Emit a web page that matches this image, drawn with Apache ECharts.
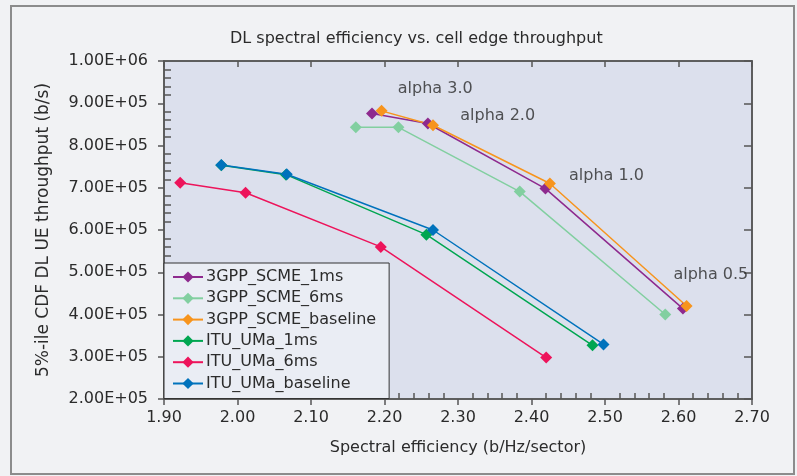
<!DOCTYPE html>
<html>
<head>
<meta charset="utf-8">
<script src="https://cdn.jsdelivr.net/npm/echarts@6/dist/echarts.min.js"></script>
<style>
  html, body { margin: 0; padding: 0; background: #f1f2f4; }
  #chart { width: 797px; height: 476px; }
</style>
</head>
<body>
<div id="chart"></div>
<script>
// series names
const seriesNames = ['3GPP_SCME_1ms', '3GPP_SCME_6ms', '3GPP_SCME_baseline', 'ITU_UMa_1ms', 'ITU_UMa_6ms', 'ITU_UMa_baseline']
const seriesColors = ['#8e2a8e', '#82cfa0', '#f7941d', '#00a651', '#ed145b', '#0072bc']

// spectral efficiency (x) / 5%-ile throughput (y), one point per alpha
const scme1msX = [2.183, 2.259, 2.419, 2.606]
const scme1msY = [876000, 852000, 698000, 414000]
const scme6msX = [2.161, 2.219, 2.384, 2.582]
const scme6msY = [843000, 843000, 691000, 400000]
const scmeBaseX = [2.196, 2.266, 2.425, 2.611]
const scmeBaseY = [882000, 848000, 710000, 420000]
const uma1msX = [1.978, 2.066, 2.257, 2.483]
const uma1msY = [753000, 731000, 589000, 327000]
const uma6msX = [1.922, 2.011, 2.195, 2.420]
const uma6msY = [712000, 688000, 560000, 298000]
const umaBaseX = [1.978, 2.067, 2.266, 2.498]
const umaBaseY = [754000, 732000, 600000, 329000]

const seriesX = [scme1msX, scme6msX, scmeBaseX, uma1msX, uma6msX, umaBaseX]
const seriesY = [scme1msY, scme6msY, scmeBaseY, uma1msY, uma6msY, umaBaseY]

// alpha annotations
const alphaText = ['alpha 3.0', 'alpha 2.0', 'alpha 1.0', 'alpha 0.5']
const alphaX = [2.269, 2.354, 2.502, 2.644]
const alphaY = [934000, 870000, 728000, 493000]

const FONT = 'DejaVu Sans'
const TXT = '#2b2b2b'
const AXIS = '#555'

function sci(v) {
    const e = Math.floor(Math.log10(v) + 1e-9)
    const m = v / Math.pow(10, e)
    return m.toFixed(2) + 'E+' + String(e).padStart(2, '0')
}

const chart = echarts.init(document.getElementById('chart'))

const lineSeries = seriesNames.map((name, k) => ({
    name: name,
    type: 'line',
    data: seriesX[k].map((x, i) => [x, seriesY[k][i]]),
    symbol: 'diamond',
    symbolSize: 12,
    showSymbol: true,
    color: seriesColors[k],
    lineStyle: { width: 1.5, color: seriesColors[k] },
    itemStyle: { color: seriesColors[k] },
    emphasis: { disabled: true },
    z: 3
}))

const annotations = {
    name: 'alpha',
    type: 'scatter',
    data: alphaText.map((t, i) => ({ name: t, value: [alphaX[i], alphaY[i]] })),
    symbolSize: 1,
    itemStyle: { color: 'rgba(0,0,0,0)' },
    label: {
        show: true,
        position: 'inside',
        formatter: p => p.name,
        color: TXT,
        fontFamily: FONT,
        fontSize: 16
    },
    silent: true,
    z: 5
}

const tickStyle = { color: AXIS, width: 1.5 }

chart.setOption({
    backgroundColor: '#f1f2f4',
    animation: false,
    title: {
        text: 'DL spectral efficiency vs. cell edge throughput',
        left: 225,
        top: 26,
        textStyle: { fontFamily: FONT, fontSize: 16, fontWeight: 'normal', color: TXT }
    },
    grid: {
        left: 164,
        top: 61,
        right: 45,
        bottom: 77,
        show: true,
        backgroundColor: '#dce0ed',
        borderColor: AXIS,
        borderWidth: 1.5
    },
    legend: {
        data: seriesNames,
        orient: 'vertical',
        left: 164,
        top: 263,
        padding: [6, 13, 7, 8],
        itemWidth: 30,
        itemHeight: 14,
        itemGap: 5.3,
        backgroundColor: '#eaedf4',
        borderColor: '#333',
        borderWidth: 1,
        textStyle: { fontFamily: FONT, fontSize: 16, color: TXT, padding: [0, 0, 0, -2] },
        selectedMode: false
    },
    xAxis: [{
        type: 'value',
        min: 1.9,
        max: 2.7,
        interval: 0.1,
        position: 'bottom',
        name: 'Spectral efficiency (b/Hz/sector)',
        nameLocation: 'middle',
        nameGap: 41,
        nameTextStyle: { fontFamily: FONT, fontSize: 16, color: TXT },
        splitLine: { show: false },
        axisLine: { show: true, lineStyle: tickStyle },
        axisTick: { show: true, inside: false, length: 6, lineStyle: tickStyle },
        minorTick: { show: true, splitNumber: 5, length: -6, lineStyle: tickStyle },
        axisLabel: { formatter: v => v.toFixed(2), fontFamily: FONT, fontSize: 16, color: TXT, margin: 11 }
    }, {
        type: 'value',
        min: 1.9,
        max: 2.7,
        interval: 0.1,
        position: 'top',
        splitLine: { show: false },
        axisLine: { show: true, lineStyle: tickStyle },
        axisTick: { show: true, inside: true, length: 6, lineStyle: tickStyle },
        axisLabel: { show: false }
    }],
    yAxis: [{
        type: 'value',
        min: 200000,
        max: 1000000,
        interval: 100000,
        position: 'left',
        name: '5%-ile CDF DL UE throughput (b/s)',
        nameLocation: 'middle',
        nameGap: 112,
        nameTextStyle: { fontFamily: FONT, fontSize: 17, color: TXT },
        splitLine: { show: false },
        axisLine: { show: true, lineStyle: tickStyle },
        axisTick: { show: true, inside: false, length: 6, lineStyle: tickStyle },
        minorTick: { show: true, splitNumber: 5, length: -7, lineStyle: tickStyle },
        axisLabel: { formatter: sci, fontFamily: FONT, fontSize: 16, color: TXT, margin: 16 }
    }, {
        type: 'value',
        min: 200000,
        max: 1000000,
        interval: 100000,
        position: 'right',
        splitLine: { show: false },
        axisLine: { show: true, lineStyle: tickStyle },
        axisTick: { show: true, inside: true, length: 8, lineStyle: tickStyle },
        axisLabel: { show: false }
    }],
    graphic: [{
        type: 'rect',
        shape: { x: 11, y: 6, width: 783, height: 468 },
        style: { fill: 'none', stroke: '#8c8c8c', lineWidth: 2 },
        silent: true,
        z: 0
    }],
    series: lineSeries.concat([annotations])
})
</script>
</body>
</html>
